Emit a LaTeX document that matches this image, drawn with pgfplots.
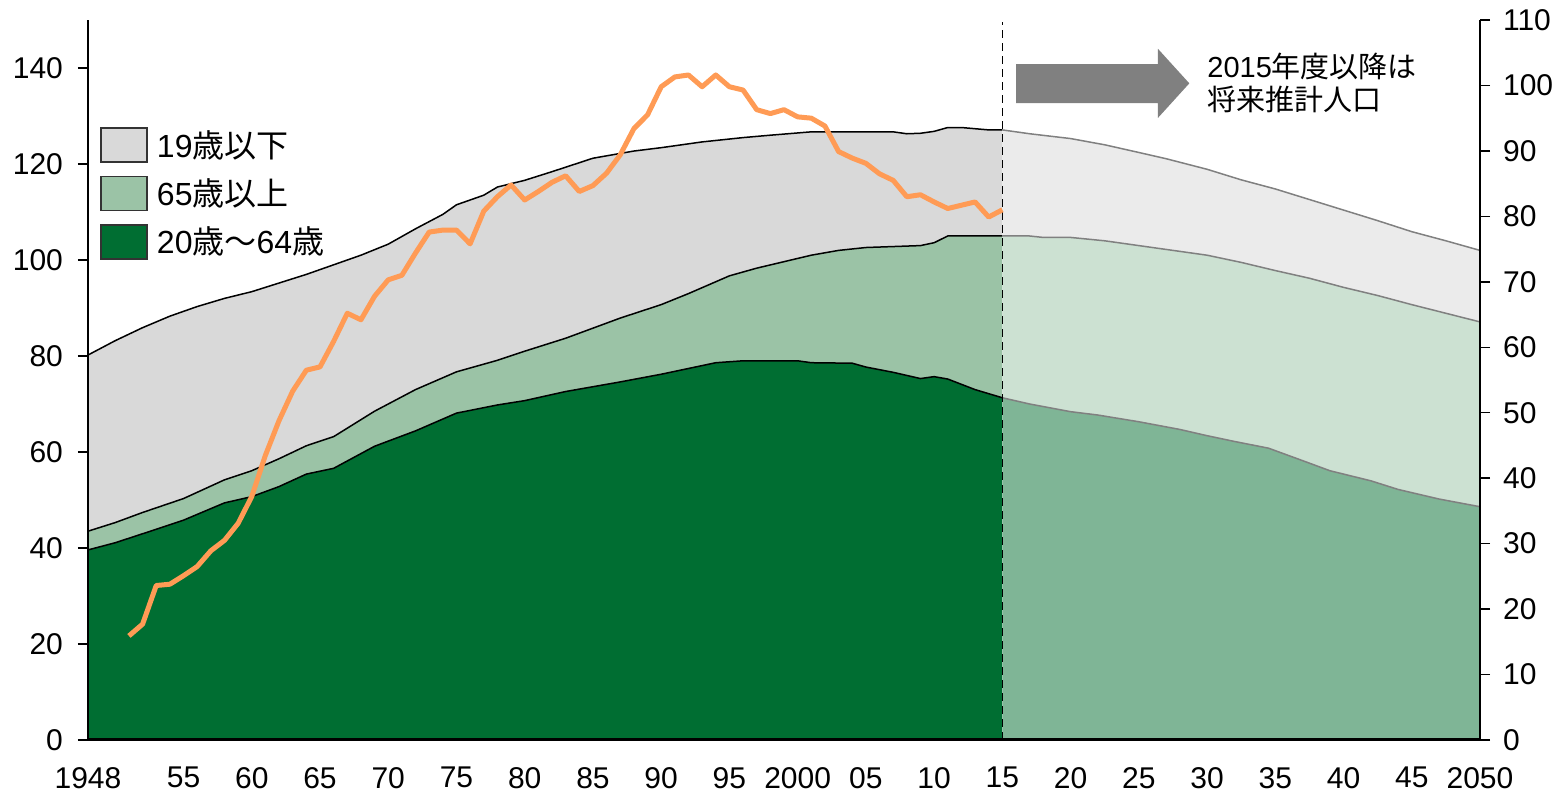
\documentclass[border=0pt]{standalone}
\usepackage{pgfplots}
\pgfplotsset{compat=1.18}
\usepackage{fontspec}
\setmainfont{Liberation Sans}
\newfontfamily\cjk{Noto Sans CJK JP}
\definecolor{dkgreen}{RGB}{0,110,50}
\definecolor{ltgreen}{RGB}{155,195,166}
\definecolor{hgray}{RGB}{217,217,217}
\definecolor{fgray}{RGB}{235,235,235}
\definecolor{fltgreen}{RGB}{204,225,210}
\definecolor{fdkgreen}{RGB}{127,181,150}
\definecolor{orangeL}{RGB}{255,155,85}
\definecolor{arrowgray}{RGB}{128,128,128}
\begin{document}
\begin{tikzpicture}
\useasboundingbox (-44pt,-26.5pt) rectangle (738.5pt,370pt);
\begin{axis}[
  scale only axis, width=696pt, height=360pt,
  xmin=1948, xmax=2050, ymin=0, ymax=150,
  axis x line*=bottom, axis y line*=left,
  axis line style={-, line width=1pt},
  x axis line style={line width=1.5pt},
  axis on top,
  xtick={1948,1955,1960,1965,1970,1975,1980,1985,1990,1995,2000,2005,2010,2015,2020,2025,2030,2035,2040,2045,2050},
  xticklabels={1948,55,60,65,70,75,80,85,90,95,2000,05,10,15,20,25,30,35,40,45,2050},
  ytick={0,20,40,60,80,100,120,140},
  xtick style={draw=none},
  ytick style={line width=0.75pt, black},
  tick align=outside, major tick length=5pt,
  /pgf/number format/assume math mode=true,
  tick label style={font=\fontsize{15}{17}\selectfont},
  xticklabel style={yshift=-5pt},
  yticklabel style={xshift=-4pt},
  legend image code/.code={\draw[#1, draw=black!80, line width=0.8pt] (0pt,-8.5pt) rectangle (23pt,8.5pt);},
  legend style={at={(0.0086,0.853)}, anchor=north west, draw=none, fill=none,
    inner sep=0pt, row sep=5.2pt, column sep=2.5pt,
    font=\fontsize{16}{19}\selectfont, cells={anchor=west}},
  clip=false,
]
% historical areas
\addplot[fill=hgray, draw=none] coordinates {
(1948,80.2)(1950,83.2)(1952,85.9)(1954,88.3)(1956,90.3)(1958,92.0)(1960,93.4)(1962,95.2)(1964,97.0)(1966,99.0)(1968,101.0)(1970,103.3)(1972,106.5)(1974,109.5)(1975,111.5)(1977,113.5)(1978,115.2)(1980,116.6)(1982,118.4)(1985,121.2)(1988,122.7)(1990,123.4)(1993,124.6)(1996,125.5)(1998,126.0)(2001,126.7)(2007,126.7)(2008,126.3)(2009,126.4)(2010,126.8)(2011,127.6)(2012,127.6)(2014,127.1)(2015,127.1)
} \closedcycle;
\addlegendentry{19{\cjk 歳以下}}
\addplot[fill=ltgreen, draw=none] coordinates {
(1948,43.5)(1950,45.3)(1952,47.4)(1955,50.3)(1958,54.2)(1960,56.1)(1962,58.6)(1964,61.3)(1966,63.2)(1969,68.5)(1972,73.0)(1975,76.7)(1978,79.1)(1980,81.0)(1983,83.7)(1985,85.8)(1987,87.9)(1990,90.7)(1992,93.0)(1995,96.7)(1997,98.3)(2001,101.0)(2003,102.0)(2005,102.6)(2009,103.0)(2010,103.6)(2011,105.0)(2015,105.0)
} \closedcycle;
\addlegendentry{65{\cjk 歳以上}}
\addplot[fill=dkgreen, draw=none] coordinates {
(1948,39.6)(1950,41.1)(1953,43.9)(1955,45.8)(1958,49.4)(1960,50.7)(1962,52.8)(1964,55.4)(1966,56.6)(1969,61.2)(1972,64.4)(1975,68.1)(1978,69.8)(1980,70.7)(1983,72.6)(1987,74.6)(1990,76.2)(1994,78.6)(1996,79.0)(2000,79.0)(2001,78.6)(2004,78.5)(2005,77.7)(2007,76.6)(2009,75.3)(2010,75.7)(2011,75.2)(2013,73.0)(2015,71.3)
} \closedcycle;
\addlegendentry{20{\cjk 歳～}64{\cjk 歳}}
% future areas
\addplot[fill=fgray, draw=none, forget plot] coordinates {
(2015,127.1)(2017,126.3)(2020,125.3)(2022.5,124.0)(2025,122.4)(2027,121.1)(2030,118.9)(2032.5,116.7)(2035,114.8)(2037.5,112.6)(2040,110.4)(2042.5,108.2)(2045,105.9)(2047.5,104.0)(2050,102.0)
} \closedcycle;
\addplot[fill=fltgreen, draw=none, forget plot] coordinates {
(2015,105.0)(2017,105.0)(2018,104.7)(2020,104.7)(2022.5,104.0)(2025,103.0)(2027,102.2)(2030,101.0)(2032.5,99.5)(2035,97.8)(2037.5,96.2)(2040,94.3)(2042.5,92.6)(2045,90.7)(2047.5,88.9)(2050,87.1)
} \closedcycle;
\addplot[fill=fdkgreen, draw=none, forget plot] coordinates {
(2015,71.3)(2017,70.0)(2020,68.4)(2022,67.7)(2025,66.3)(2028,64.7)(2030,63.4)(2032,62.2)(2034.5,60.8)(2037,58.2)(2039,56.1)(2042,54.0)(2044,52.2)(2047,50.2)(2050,48.6)
} \closedcycle;
% boundary lines historical
\addplot[black, line width=0.75pt, forget plot] coordinates {
(1948,80.2)(1950,83.2)(1952,85.9)(1954,88.3)(1956,90.3)(1958,92.0)(1960,93.4)(1962,95.2)(1964,97.0)(1966,99.0)(1968,101.0)(1970,103.3)(1972,106.5)(1974,109.5)(1975,111.5)(1977,113.5)(1978,115.2)(1980,116.6)(1982,118.4)(1985,121.2)(1988,122.7)(1990,123.4)(1993,124.6)(1996,125.5)(1998,126.0)(2001,126.7)(2007,126.7)(2008,126.3)(2009,126.4)(2010,126.8)(2011,127.6)(2012,127.6)(2014,127.1)(2015,127.1)
};
\addplot[black, line width=0.75pt, forget plot] coordinates {
(1948,43.5)(1950,45.3)(1952,47.4)(1955,50.3)(1958,54.2)(1960,56.1)(1962,58.6)(1964,61.3)(1966,63.2)(1969,68.5)(1972,73.0)(1975,76.7)(1978,79.1)(1980,81.0)(1983,83.7)(1985,85.8)(1987,87.9)(1990,90.7)(1992,93.0)(1995,96.7)(1997,98.3)(2001,101.0)(2003,102.0)(2005,102.6)(2009,103.0)(2010,103.6)(2011,105.0)(2015,105.0)
};
\addplot[black, line width=0.75pt, forget plot] coordinates {
(1948,39.6)(1950,41.1)(1953,43.9)(1955,45.8)(1958,49.4)(1960,50.7)(1962,52.8)(1964,55.4)(1966,56.6)(1969,61.2)(1972,64.4)(1975,68.1)(1978,69.8)(1980,70.7)(1983,72.6)(1987,74.6)(1990,76.2)(1994,78.6)(1996,79.0)(2000,79.0)(2001,78.6)(2004,78.5)(2005,77.7)(2007,76.6)(2009,75.3)(2010,75.7)(2011,75.2)(2013,73.0)(2015,71.3)
};
% boundary lines future
\addplot[arrowgray, line width=0.75pt, forget plot] coordinates {
(2015,127.1)(2017,126.3)(2020,125.3)(2022.5,124.0)(2025,122.4)(2027,121.1)(2030,118.9)(2032.5,116.7)(2035,114.8)(2037.5,112.6)(2040,110.4)(2042.5,108.2)(2045,105.9)(2047.5,104.0)(2050,102.0)
};
\addplot[arrowgray, line width=0.75pt, forget plot] coordinates {
(2015,105.0)(2017,105.0)(2018,104.7)(2020,104.7)(2022.5,104.0)(2025,103.0)(2027,102.2)(2030,101.0)(2032.5,99.5)(2035,97.8)(2037.5,96.2)(2040,94.3)(2042.5,92.6)(2045,90.7)(2047.5,88.9)(2050,87.1)
};
\addplot[arrowgray, line width=0.75pt, forget plot] coordinates {
(2015,71.3)(2017,70.0)(2020,68.4)(2022,67.7)(2025,66.3)(2028,64.7)(2030,63.4)(2032,62.2)(2034.5,60.8)(2037,58.2)(2039,56.1)(2042,54.0)(2044,52.2)(2047,50.2)(2050,48.6)
};
% dashed divider
\draw[black, line width=0.7pt, dash pattern=on 4pt off 2.5pt] (axis cs:2015,0) -- (axis cs:2015,149.6);
% arrow
\fill[arrowgray] (axis cs:2016.0,140.8) -- (axis cs:2026.4,140.8) -- (axis cs:2026.4,144.0) -- (axis cs:2028.7,136.8) -- (axis cs:2026.4,129.6) -- (axis cs:2026.4,132.7) -- (axis cs:2016.0,132.7) -- cycle;
\node[anchor=north west, align=left, inner sep=0pt, font=\fontsize{14.5}{16.5}\selectfont] at (axis cs:2030.0,143.2) {2015{\cjk 年度以降は}\\{\cjk 将来推計人口}};
\end{axis}
\begin{axis}[
  scale only axis, width=696pt, height=360pt,
  xmin=1948, xmax=2050, ymin=0, ymax=110,
  axis x line=none, axis y line*=right,
  axis line style={-, line width=0.75pt},
  ytick={0,10,...,110},
  ytick style={line width=0.75pt, black},
  tick align=outside, major tick length=5pt,
  /pgf/number format/assume math mode=true,
  tick label style={font=\fontsize{15}{17}\selectfont},
  yticklabel style={xshift=3pt},
]
\addplot[orangeL, line width=2.5pt, line join=round] coordinates {
(1951,15.9)(1952,17.7)(1953,23.6)(1954,23.8)(1955,25.1)(1956,26.5)(1957,28.9)(1958,30.5)(1959,33.1)(1960,37.2)(1961,43.5)(1962,48.8)(1963,53.3)(1964,56.5)(1965,57.0)(1966,60.9)(1967,65.2)(1968,64.2)(1969,67.8)(1970,70.3)(1971,71.0)(1972,74.4)(1973,77.6)(1974,77.9)(1975,77.9)(1976,75.8)(1977,80.8)(1978,83.0)(1979,84.8)(1980,82.5)(1981,83.8)(1982,85.2)(1983,86.2)(1984,83.8)(1985,84.7)(1986,86.6)(1987,89.4)(1988,93.4)(1989,95.5)(1990,99.8)(1991,101.3)(1992,101.6)(1993,99.8)(1994,101.6)(1995,99.8)(1996,99.3)(1997,96.3)(1998,95.7)(1999,96.3)(2000,95.2)(2001,95.0)(2002,93.8)(2003,89.9)(2004,88.9)(2005,88.1)(2006,86.5)(2007,85.5)(2008,83.0)(2009,83.3)(2010,82.2)(2011,81.2)(2012,81.7)(2013,82.2)(2014,79.9)(2015,81.0)
};
\end{axis}
\end{tikzpicture}
\end{document}
